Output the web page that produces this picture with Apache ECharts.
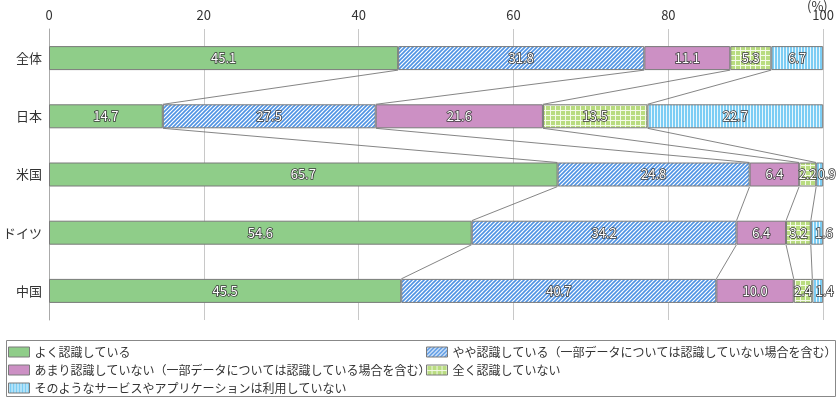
<!DOCTYPE html>
<html>
<head>
<meta charset="utf-8">
<script src="https://cdn.jsdelivr.net/npm/echarts@6/dist/echarts.min.js"></script>
<style>
  html, body { margin: 0; padding: 0; background: #fff; }
  #chart { width: 837px; height: 397px; }
</style>
</head>
<body>
<div id="chart"></div>
<script>
// データ
const categories = ["全体", "日本", "米国", "ドイツ", "中国"]
const seriesNames = [
  "よく認識している",
  "やや認識している（一部データについては認識していない場合を含む）",
  "あまり認識していない（一部データについては認識している場合を含む）",
  "全く認識していない",
  "そのようなサービスやアプリケーションは利用していない"
]
const wellAware = [45.1, 14.7, 65.7, 54.6, 45.5]
const somewhatAware = [31.8, 27.5, 24.8, 34.2, 40.7]
const notMuchAware = [11.1, 21.6, 6.4, 6.4, 10.0]
const notAware = [5.3, 13.5, 2.2, 3.2, 2.4]
const notUsing = [6.7, 22.7, 0.9, 1.6, 1.4]
const xTicks = [0, 20, 40, 60, 80, 100]

const allValues = [wellAware, somewhatAware, notMuchAware, notAware, notUsing]
const FONT = "'Noto Sans CJK JP', 'Noto Sans', sans-serif"
const BAR_W = 24

// 模様パターン
function makePattern(w, h, draw) {
  const c = document.createElement("canvas")
  c.width = w
  c.height = h
  draw(c.getContext("2d"), w, h)
  return { image: c, repeat: "repeat" }
}

const diagBlue = makePattern(4, 4, (ctx, w, h) => {
  ctx.fillStyle = "#ffffff"
  ctx.fillRect(0, 0, w, h)
  ctx.strokeStyle = "#4f93e3"
  ctx.lineWidth = 1.6
  ctx.beginPath()
  ctx.moveTo(-1, h + 1); ctx.lineTo(w + 1, -1)
  ctx.moveTo(-1, 1); ctx.lineTo(1, -1)
  ctx.moveTo(w - 1, h + 1); ctx.lineTo(w + 1, h - 1)
  ctx.stroke()
})

const gridGreen = makePattern(5, 5, (ctx, w, h) => {
  ctx.fillStyle = "#b9dc80"
  ctx.fillRect(0, 0, w, h)
  ctx.fillStyle = "#f4fae8"
  ctx.fillRect(0, 0, w, 1)
  ctx.fillRect(0, 0, 1, h)
})

const vertBlue = makePattern(3, 3, (ctx, w, h) => {
  ctx.fillStyle = "#7ccdf4"
  ctx.fillRect(0, 0, w, h)
  ctx.fillStyle = "#e8f7fd"
  ctx.fillRect(0, 0, 1, h)
})

const fills = ["#8fcd89", diagBlue, "#cc90c4", gridGreen, vertBlue]

// 累積値
const cumulative = categories.map((c, i) => {
  const out = [0]
  allValues.forEach((vals, k) => out.push(out[k] + vals[i]))
  return out
})

const chart = echarts.init(document.getElementById("chart"))

const labelBase = {
  show: true,
  position: "inside",
  formatter: (p) => p.value.toFixed(1),
  color: "#fff",
  textBorderColor: "#3a3a3a",
  textBorderWidth: 1.5,
  fontSize: 13,
  fontFamily: FONT
}

const barSeries = allValues.map((vals, k) => ({
  name: seriesNames[k],
  type: "bar",
  stack: "total",
  barWidth: BAR_W,
  // 小さい値のラベルは右にずらす
  data: vals.map((v) => (k === allValues.length - 1 && v < 2
    ? { value: v, label: { offset: [7, 0] } }
    : v)),
  itemStyle: { color: fills[k], borderColor: "#7a7a7a", borderWidth: 1 },
  label: labelBase,
  emphasis: { disabled: true }
}))

// 棒の間の接続線
const connectorSeries = {
  type: "custom",
  silent: true,
  z: 1,
  data: categories.slice(0, categories.length - 1).map((c, i) => [i]),
  renderItem: (params, api) => {
    const i = params.dataIndex
    const children = []
    for (let k = 1; k < allValues.length; k++) {
      const p1 = api.coord([cumulative[i][k], i])
      const p2 = api.coord([cumulative[i + 1][k], i + 1])
      children.push({
        type: "line",
        shape: { x1: p1[0], y1: p1[1] + BAR_W / 2, x2: p2[0], y2: p2[1] - BAR_W / 2 },
        style: { stroke: "#666", lineWidth: 0.8 }
      })
    }
    return { type: "group", children }
  }
}

const legendCommon = {
  orient: "vertical",
  padding: 0,
  itemWidth: 21,
  itemHeight: 10,
  itemGap: 6,
  icon: "rect",
  selectedMode: false,
  textStyle: { fontSize: 12, color: "#333", fontFamily: FONT },
  itemStyle: { borderColor: "#7a7a7a", borderWidth: 1 }
}

chart.setOption({
  animation: false,
  textStyle: { fontFamily: FONT },
  grid: { left: 48, right: 13, top: 29, height: 291, containLabel: false },
  xAxis: {
    type: "value",
    position: "top",
    min: xTicks[0],
    max: xTicks[xTicks.length - 1],
    interval: 20,
    axisLine: { show: false },
    axisTick: { show: false },
    axisLabel: { color: "#333", fontSize: 13, margin: 7 },
    splitLine: { show: true, lineStyle: { color: "#c8c8c8", width: 1 } }
  },
  yAxis: {
    type: "category",
    inverse: true,
    data: categories,
    axisLine: { show: true, lineStyle: { color: "#aaa" } },
    axisTick: { show: false },
    axisLabel: { color: "#333", fontSize: 13, margin: 7 }
  },
  legend: [
    Object.assign({}, legendCommon, { left: 8, top: 346, data: [seriesNames[0], seriesNames[2], seriesNames[4]] }),
    Object.assign({}, legendCommon, { left: 426, top: 346, data: [seriesNames[1], seriesNames[3]] })
  ],
  graphic: [
    {
      type: "rect",
      left: 4,
      top: 338,
      shape: { width: 829, height: 56 },
      style: { fill: "none", stroke: "#888", lineWidth: 1 }
    },
    {
      type: "text",
      left: 807,
      top: 0,
      style: { text: "(%)", fill: "#333", fontSize: 13, fontFamily: FONT }
    }
  ],
  series: [connectorSeries].concat(barSeries)
})
</script>
</body>
</html>
